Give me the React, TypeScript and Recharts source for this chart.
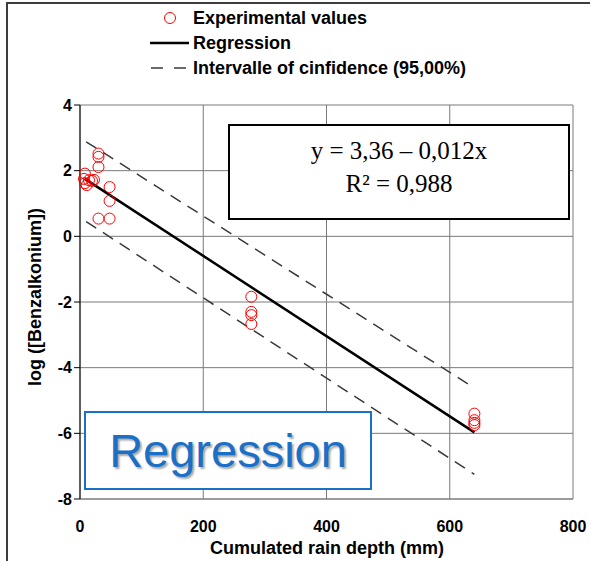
import React from "react";
import {
  ScatterChart,
  Scatter,
  XAxis,
  YAxis,
  CartesianGrid,
} from "recharts";

// measured points: cumulated rain depth (mm) vs log concentration
const rainDepth = [
  8, 6.5, 8, 11, 14.6, 19.5, 22.7, 30, 30, 30, 30, 48, 48, 48, 278, 278, 278,
  278, 640, 640, 640, 640,
];
const logBenzalkonium = [
  1.91, 1.75, 1.62, 1.56, 1.71, 1.69, 1.72, 2.52, 2.42, 2.11, 0.54, 1.5, 1.08,
  0.54, -1.84, -2.3, -2.4, -2.67, -5.4, -5.6, -5.68, -5.75,
];

// fitted line and 95% band, end points
const fitX = [8, 640];
const fitY = [1.75, -5.97];
const bandX = [10, 640];
const upperY = [2.88, -4.62];
const lowerY = [0.45, -7.25];

const xTicks = [0, 200, 400, 600, 800];
const yTicks = [-8, -6, -4, -2, 0, 2, 4];

const legendLabels = [
  "Experimental values",
  "Regression",
  "Intervalle of cinfidence (95,00%)",
];
const equationLines = ["y = 3,36 \u2013 0,012x", "R\u00b2 = 0,988"];
const badgeText = "Regression";

const points = rainDepth.map((x, i) => ({ x, y: logBenzalkonium[i] }));
const fitLine = fitX.map((x, i) => ({ x, y: fitY[i] }));
const upperLine = bandX.map((x, i) => ({ x, y: upperY[i] }));
const lowerLine = bandX.map((x, i) => ({ x, y: lowerY[i] }));

const FONT = '"Liberation Sans", Arial, sans-serif';
const RED = "#ff0000";
const BLUE = "#1a70c8";

const Ring = (props: any) => (
  <circle
    cx={props.cx}
    cy={props.cy}
    r={5.5}
    fill="none"
    stroke={RED}
    strokeWidth={1}
  />
);
const Nothing = () => <g />;

export default function App() {
  const tick = { fontSize: 16, fontWeight: 700, fill: "#000", fontFamily: FONT };
  const legendRow = (top: number): React.CSSProperties => ({
    position: "absolute",
    left: 0,
    top,
    height: 20,
    width: 590,
    display: "flex",
    alignItems: "center",
  });
  const legendText: React.CSSProperties = {
    marginLeft: 3,
    fontSize: 18,
    fontWeight: 700,
    whiteSpace: "nowrap",
  };

  return (
    <div
      style={{
        position: "absolute",
        left: 0,
        top: 0,
        width: 590,
        height: 561,
        overflow: "hidden",
        background: "#fff",
        fontFamily: FONT,
      }}
    >
      <div
        style={{
          position: "absolute",
          left: 6,
          top: 2,
          width: 700,
          height: 700,
          borderLeft: "2px solid #3c3c3c",
          borderTop: "2px solid #3c3c3c",
        }}
      />
      <ScatterChart
        width={590}
        height={561}
        margin={{ top: 105, right: 17, bottom: 0, left: 0 }}
      >
        <CartesianGrid stroke="#7a7a7a" strokeWidth={1} />
        <XAxis
          type="number"
          dataKey="x"
          domain={[0, 800]}
          ticks={xTicks}
          height={62}
          tickLine={false}
          tickSize={6}
          tickMargin={16}
          axisLine={{ stroke: "#7a7a7a" }}
          tick={tick}
          label={{
            content: () => (
              <text
                x={327}
                y={554}
                textAnchor="middle"
                fontSize={18}
                fontWeight={700}
                fontFamily={FONT}
                fill="#000"
              >
                Cumulated rain depth (mm)
              </text>
            ),
          }}
        />
        <YAxis
          type="number"
          dataKey="y"
          domain={[-8, 4]}
          ticks={yTicks}
          width={80}
          tickSize={6}
          tickLine={{ stroke: "#000" }}
          axisLine={{ stroke: "#000" }}
          tick={tick}
          label={{
            content: () => (
              <text
                x={35}
                y={297}
                transform="rotate(-90 35 297)"
                textAnchor="middle"
                dominantBaseline="central"
                fontSize={18}
                fontWeight={700}
                fontFamily={FONT}
                fill="#000"
              >
                log ([Benzalkonium])
              </text>
            ),
          }}
        />
        <Scatter
          data={upperLine}
          line={{ stroke: "#3a3a3a", strokeWidth: 1.5, strokeDasharray: "12 8" }}
          lineType="joint"
          shape={Nothing}
          isAnimationActive={false}
        />
        <Scatter
          data={lowerLine}
          line={{ stroke: "#3a3a3a", strokeWidth: 1.5, strokeDasharray: "12 8" }}
          lineType="joint"
          shape={Nothing}
          isAnimationActive={false}
        />
        <Scatter
          data={fitLine}
          line={{ stroke: "#000", strokeWidth: 2.5 }}
          lineType="joint"
          shape={Nothing}
          isAnimationActive={false}
        />
        <Scatter data={points} shape={Ring} isAnimationActive={false} />
      </ScatterChart>

      {/* legend */}
      <div style={legendRow(8)}>
        <svg width={190} height={20} style={{ flex: "none" }}>
          <circle cx={170} cy={10} r={5.5} fill="none" stroke={RED} />
        </svg>
        <span style={legendText}>{legendLabels[0]}</span>
      </div>
      <div style={legendRow(33)}>
        <svg width={190} height={20} style={{ flex: "none" }}>
          <line x1={150} x2={189} y1={10} y2={10} stroke="#000" strokeWidth={2.5} />
        </svg>
        <span style={legendText}>{legendLabels[1]}</span>
      </div>
      <div style={legendRow(58)}>
        <svg width={190} height={20} style={{ flex: "none" }}>
          <line
            x1={151}
            x2={186}
            y1={10}
            y2={10}
            stroke="#3a3a3a"
            strokeWidth={1.5}
            strokeDasharray="12 11"
          />
        </svg>
        <span style={legendText}>{legendLabels[2]}</span>
      </div>

      {/* equation box */}
      <div
        style={{
          position: "absolute",
          left: 228,
          top: 124,
          width: 338,
          height: 82,
          border: "2px solid #000",
          background: "#fff",
          fontFamily: '"Liberation Serif", "Times New Roman", serif',
          fontSize: 25,
          lineHeight: "33px",
          textAlign: "center",
          paddingTop: 10,
          boxSizing: "content-box",
        }}
      >
        <div style={{ marginTop: -2 }}>{equationLines[0]}</div>
        <div>{equationLines[1]}</div>
      </div>

      {/* badge */}
      <div
        style={{
          position: "absolute",
          left: 84,
          top: 411,
          width: 284,
          height: 75,
          border: `2px solid ${BLUE}`,
          background: "#fff",
          color: BLUE,
          fontSize: 47,
          lineHeight: "75px",
          textAlign: "center",
          textShadow: "2px 2px 2px rgba(0,0,0,0.35)",
        }}
      >
        {badgeText}
      </div>
    </div>
  );
}
